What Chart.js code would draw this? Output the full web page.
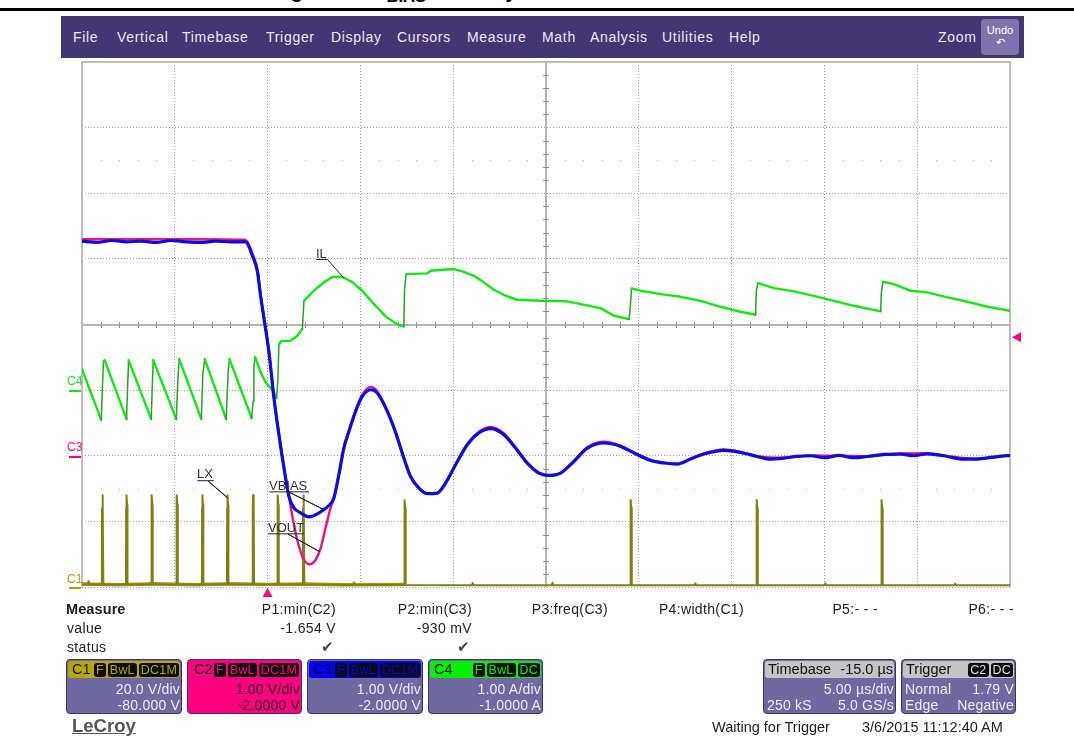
<!DOCTYPE html>
<html><head><meta charset="utf-8">
<script src="https://cdn.jsdelivr.net/npm/chart.js@4"></script>
<style>
html,body{margin:0;padding:0;background:#fff;width:1074px;height:736px;overflow:hidden;font-family:"Liberation Sans",Arial,sans-serif}
#scope{position:absolute;left:0;top:0;width:1074px;height:736px}
.a{position:absolute;white-space:nowrap;line-height:16px;color:#222}
.m{color:#ece9f4;font-size:14px;letter-spacing:.7px;top:29px}
.p{font-size:14px;letter-spacing:.35px;color:#222}
.r{transform:translateX(-100%)}
.box{position:absolute;top:659px;height:55px;background:#7068a0;border:1px solid #3c3470;border-radius:4px;box-sizing:border-box;overflow:hidden}
.hd{position:absolute;left:1px;right:1px;top:1px;height:17px;border-radius:3px;color:#111;font-size:14.5px;line-height:17px}
.hd .n{position:absolute;left:4px;top:0}
.chips{position:absolute;right:1px;top:2px;display:flex;gap:2px}
.chip{background:#0c0c0c;border-radius:3px;height:14px;line-height:14px;font-size:12.5px;padding:0 2px;letter-spacing:.2px}
.v{position:absolute;right:1px;color:#ecebf4;font-size:14px;line-height:16px;letter-spacing:.2px;white-space:nowrap}
.l1{top:21px}.l2{top:37px}
.lab{position:absolute;font-size:12px;line-height:12px;white-space:nowrap}
.ann{position:absolute;font-size:13px;line-height:13px;color:#333;white-space:nowrap}
</style></head><body>
<div style="position:absolute;left:0;top:8px;width:1074px;height:2.5px;background:#000"></div>
<div class="a" style="left:273px;top:-19px;font-size:20px;line-height:20px;font-weight:bold;color:#000;height:21px">Figure 50. V<span style="font-size:16.7px;position:relative;top:4px">BIAS</span><span style="margin-left:8px"> Linearly Overshoot Load Current</span></div>
<div style="position:absolute;left:61px;top:16px;width:963px;height:42px;background:#433672"></div>
<div class="a m" style="left:73px">File</div><div class="a m" style="left:117px">Vertical</div>
<div class="a m" style="left:182px">Timebase</div><div class="a m" style="left:266px">Trigger</div>
<div class="a m" style="left:331px">Display</div><div class="a m" style="left:397px">Cursors</div>
<div class="a m" style="left:467px">Measure</div><div class="a m" style="left:542px">Math</div>
<div class="a m" style="left:590px">Analysis</div><div class="a m" style="left:662px">Utilities</div>
<div class="a m" style="left:729px">Help</div><div class="a m" style="left:938px">Zoom</div>
<div style="position:absolute;left:981px;top:19px;width:38px;height:36px;background:#7e74ab;border-radius:4px;color:#fff;font-size:11px;line-height:12px;text-align:center;padding-top:5px;box-sizing:border-box">Undo<br>↶</div>

<canvas id="scope" width="1074" height="736"></canvas>

<div class="lab" style="left:67px;top:375px;color:#22dd22">C4</div><div style="position:absolute;left:69px;top:390px;width:12px;height:2px;background:#22dd22"></div>
<div class="lab" style="left:67px;top:441px;color:#ff0080">C3</div><div style="position:absolute;left:69px;top:456px;width:12px;height:2px;background:#ff0080"></div>
<div class="lab" style="left:67px;top:573px;color:#a8a000">C1</div><div style="position:absolute;left:69px;top:587px;width:12px;height:2px;background:#a8a000"></div>
<div class="ann" style="left:316px;top:247px">IL</div>
<div class="ann" style="left:197px;top:467px">LX</div>
<div class="ann" style="left:269px;top:479px">VBIAS</div>
<div class="ann" style="left:268px;top:521px">VOUT</div>

<div class="a" style="left:66px;top:601px;font-size:14.5px;font-weight:bold;color:#222;letter-spacing:.1px">Measure</div>
<div class="a p" style="left:67px;top:620px">value</div>
<div class="a p" style="left:67px;top:639px">status</div>
<div class="a p r" style="left:336px;top:601px">P1:min(C2)</div>
<div class="a p r" style="left:472px;top:601px">P2:min(C3)</div>
<div class="a p r" style="left:608px;top:601px">P3:freq(C3)</div>
<div class="a p r" style="left:744px;top:601px">P4:width(C1)</div>
<div class="a p r" style="left:878px;top:601px">P5:- - -</div>
<div class="a p r" style="left:1014px;top:601px">P6:- - -</div>
<div class="a p r" style="left:336px;top:620px">-1.654 V</div>
<div class="a p r" style="left:472px;top:620px">-930 mV</div>
<div class="a r" style="left:334px;top:639px;font-size:15px;color:#444">✔</div>
<div class="a r" style="left:470px;top:639px;font-size:15px;color:#444">✔</div>

<div class="box" style="left:66px;width:116px"><div class="hd" style="background:#b4a800"><span class="n">C1</span><div class="chips" style="color:#b4a800"><span class="chip">F</span><span class="chip">BwL</span><span class="chip">DC1M</span></div></div><div class="v l1">20.0 V/div</div><div class="v l2">-80.000 V</div></div>
<div class="box" style="left:187px;width:115px;background:#ff0080"><div class="hd" style="background:#ff0080"><span class="n" style="left:5px">C2</span><div class="chips" style="color:#ff0080"><span class="chip">F</span><span class="chip">BwL</span><span class="chip">DC1M</span></div></div><div class="v l1" style="color:#300018">1.00 V/div</div><div class="v l2" style="color:#300018">-2.0000 V</div></div>
<div class="box" style="left:307px;width:116px"><div class="hd" style="background:#0000f0;color:#000050"><span class="n">C3</span><div class="chips" style="color:#0000f0"><span class="chip">F</span><span class="chip">BwL</span><span class="chip">DC1M</span></div></div><div class="v l1">1.00 V/div</div><div class="v l2">-2.0000 V</div></div>
<div class="box" style="left:428px;width:115px"><div class="hd" style="background:#00f000"><span class="n">C4</span><div class="chips" style="color:#00f000"><span class="chip">F</span><span class="chip">BwL</span><span class="chip">DC</span></div></div><div class="v l1">1.00 A/div</div><div class="v l2">-1.0000 A</div></div>

<div class="box" style="left:763px;width:133px"><div class="hd" style="background:#c4c4c4"><span class="n" style="left:3px">Timebase</span><span class="n" style="left:auto;right:1px">-15.0 µs</span></div><div class="v l1">5.00 µs/div</div><div class="v l2">5.0 GS/s</div><div class="v l2" style="right:auto;left:3px">250 kS</div></div>
<div class="box" style="left:901px;width:115px"><div class="hd" style="background:#c4c4c4"><span class="n" style="left:3px">Trigger</span><div class="chips" style="color:#ddd"><span class="chip">C2</span><span class="chip">DC</span></div></div><div class="v l1">1.79 V</div><div class="v l1" style="right:auto;left:3px">Normal</div><div class="v l2">Negative</div><div class="v l2" style="right:auto;left:3px">Edge</div></div>

<div class="a" style="left:72px;top:716px;font-size:18.5px;line-height:20px;color:#555;text-decoration:underline;font-weight:bold">LeCroy</div>
<div class="a" style="left:712px;top:719px;font-size:14.5px;color:#222">Waiting for Trigger</div>
<div class="a" style="left:862px;top:719px;font-size:14.5px;color:#222">3/6/2015 11:12:40 AM</div>

<script>
const triggerLevelV = 1.79;
const triggerTimeUs = 0;

const ilTimeUs = [-10,-8.96,-8.91,-8.84,-8.78,-7.6,-7.54,-7.49,-6.27,-6.21,-6.16,-4.92,-4.83,-4.76,-3.57,-3.49,-3.39,-2.23,-2.12,-2.05,-0.86,-0.78,-0.74,-0.67,-0.38,-0.11,0.34,0.48,0.55,0.61,0.74,1.24,1.6,1.87,1.96,2.05,2.49,3.03,3.49,4.02,4.56,5.1,5.73,6.36,6.99,7.34,7.38,7.47,8.6,8.78,10.04,10.49,11.12,11.65,12.19,12.82,13.45,14.71,16.15,16.86,17.94,18.66,19.47,19.52,19.61,20.1,21.18,22.25,23.33,24.41,25.48,26.29,26.33,26.42,27.28,28.36,29.43,30.51,31.59,33.03,33.07,33.15,33.75,34.65,35.55,36.63,37.71,38.79,40];
const ilAmps = [0.32,-0.457,-0.015,0.44,0.457,-0.442,0.061,0.457,-0.442,0.091,0.457,-0.442,0.198,0.473,-0.442,0.244,0.473,-0.442,0.32,0.473,-0.427,-0.168,0.366,0.503,0.274,0.122,-0.03,-0.122,0.137,0.7,0.747,0.752,0.828,0.93,1.36,1.387,1.514,1.642,1.723,1.727,1.646,1.514,1.311,1.124,1,0.971,1.54,1.768,1.779,1.819,1.845,1.81,1.742,1.642,1.529,1.438,1.377,1.361,1.352,1.311,1.25,1.133,1.082,1.184,1.55,1.514,1.463,1.422,1.361,1.27,1.194,1.148,1.514,1.631,1.555,1.505,1.437,1.361,1.285,1.2,1.489,1.651,1.616,1.514,1.489,1.413,1.346,1.27,1.209];

const vbiasTimeUs = [-10,-9.2,-8.4,-7.6,-6.8,-6,-5.2,-4.4,-3.6,-2.8,-2,-1.19,-0.82,-0.55,-0.38,-0.2,0.07,0.34,0.61,0.88,1.15,1.42,1.78,2.23,2.86,3.3,3.57,3.84,4.11,4.38,4.74,5.1,5.58,5.91,6.45,6.9,7.34,7.7,8.15,8.64,9.14,9.59,10.13,10.76,11.38,12.02,12.73,13.36,13.99,14.62,15.16,15.79,16.5,17.23,18.12,19.02,19.74,20.64,21.35,22.07,22.79,23.51,24.59,25.48,26.38,27,27.82,28.5,29.26,30,30.8,31.5,32.31,33.2,34.11,34.8,35.55,36.63,37.4,38.24,39.1,40];
const vbiasVolts = [3.27,3.25,3.28,3.26,3.27,3.25,3.28,3.26,3.25,3.27,3.26,3.26,3.05,2.81,2.44,2.1,1.585,0.884,0.32,-0.183,-0.62,-0.793,-0.869,-0.93,-0.854,-0.758,-0.645,-0.29,0.117,0.37,0.675,0.904,1.006,0.956,0.675,0.351,-0.035,-0.316,-0.492,-0.579,-0.569,-0.416,-0.137,0.168,0.346,0.412,0.32,0.117,-0.111,-0.264,-0.3,-0.264,-0.087,0.117,0.194,0.142,0.041,-0.072,-0.111,-0.127,-0.05,0.026,0.081,0.05,-0.011,-0.05,-0.035,-0.01,0,-0.03,0.005,-0.03,-0.011,0.02,0.026,0,0.03,-0.011,-0.05,-0.05,-0.02,0.005];

const voutTimeUs = [-10,-7,-4,-1.19,-0.82,-0.55,-0.38,-0.2,0.07,0.34,0.61,0.88,1.15,1.42,1.69,1.96,2.26,2.59,2.86,3.12,3.39,3.57,3.84,4.11,4.38,4.74,5.1,5.58,5.91,6.45,6.9,7.34,7.7,8.15,8.64,9.14,9.59,10.13,10.76,11.38,12.02,12.73,13.36,13.99,14.62,15.16,15.79,16.5,17.23,18.12,19.02,19.74,20.64,21.35,22.07,22.79,23.51,24.59,25.48,26.38,27.82,29.26,32.31,34.11,35.55,36.63,38.24,40];
const voutVolts = [3.3,3.3,3.3,3.29,3.08,2.84,2.46,2.12,1.6,0.9,0.33,-0.17,-0.62,-1.052,-1.383,-1.585,-1.654,-1.585,-1.407,-1.102,-0.797,-0.645,-0.28,0.125,0.38,0.69,0.93,1.05,0.98,0.69,0.36,-0.03,-0.31,-0.49,-0.575,-0.565,-0.41,-0.13,0.18,0.365,0.44,0.34,0.125,-0.105,-0.26,-0.295,-0.26,-0.08,0.13,0.215,0.155,0.05,-0.065,-0.105,-0.12,-0.045,0.035,0.095,0.06,-0.005,-0.03,0.005,-0.005,0.035,0.04,-0.005,-0.045,0.01];

const lxTimeUs = [-10,-9.7,-9.65,-9.6,-8.93,-8.92,-8.9,-8.87,-8.85,-7.63,-7.62,-7.6,-7.57,-7.55,-6.27,-6.26,-6.24,-6.21,-6.19,-4.92,-4.91,-4.89,-4.86,-4.84,-3.54,-3.53,-3.51,-3.48,-3.46,-2.19,-2.18,-2.16,-2.13,-2.11,-0.81,-0.8,-0.78,-0.75,-0.73,0.52,0.53,0.55,0.58,0.6,1.9,1.91,1.93,1.96,1.98,4.6,4.65,4.7,7.36,7.37,7.39,7.42,7.44,11,11.05,11.1,15.3,15.35,15.4,19.54,19.55,19.57,19.6,19.62,23,23.05,23.1,26.33,26.34,26.36,26.39,26.41,30,30.05,30.1,33.06,33.07,33.09,33.12,33.14,37,37.05,37.1,40];
const lxVolts = [0.8,0.8,1.8,0.8,0.8,24,28,25,0.8,0.8,24,28,25,0.8,0.8,24,28,25,0.8,0.8,24,28,25,0.8,0.8,24,28,25,0.8,0.8,24,28,25,0.8,0.8,24,28,25,0.8,0.8,24,28,25,0.8,0.8,24,28,25,0.8,0.6,1.4,0.6,0.6,23,26.5,24,0.6,0.5,1.2,0.5,0.5,1.3,0.5,0.5,23,26.5,24,0.5,0.5,1.1,0.5,0.5,23,26.5,24,0.5,0.5,1.1,0.5,0.5,23,26.5,24,0.5,0.5,1,0.5,0.5];
// the noisier LX baseline before and just after the load step
const lxNoiseTimeUs = [-10,-8,-6,-4,-2,0,2,4,7.3];
const lxNoiseVolts = [0.9,0.7,1,0.7,1,0.8,0.9,0.7,0.8];

// leader lines of the on-screen labels (time in µs, level on the 1 V/div scale)
const leaderILT = [2.64,3.23,4.1];     const leaderILV = [2.99,2.99,2.71];
const leaderLXT = [-3.77,-3.23,-2.16,-3.23,-2.91]; const leaderLXV = [-0.38,-0.38,-0.64,-0.38,-0.38];
const leaderVBT = [0.11,1.13,3.02,1.13,2.21];      const leaderVBV = [-0.55,-0.55,-0.82,-0.55,-0.55];
const leaderVOT = [0.05,1.08,2.8,1.08,1.94];       const leaderVOV = [-1.19,-1.19,-1.46,-1.19,-1.19];

const zip = (xs, ys) => xs.map((x, i) => ({x, y: ys[i]}));
const base = {pointRadius: 0, pointHoverRadius: 0, tension: 0, fill: false, borderJoinStyle: 'round', borderCapStyle: 'round'};

const steepRise = c => (c.p0.y - c.p1.y) > 3 * Math.abs(c.p1.x - c.p0.x);

const scopePlugin = {
  id: 'scopeFurniture',
  beforeDatasetsDraw(chart) {
    const {ctx, chartArea: a, scales: {x, y}} = chart;
    ctx.save();
    const cx = Math.round(x.getPixelForValue(15)), cy = Math.round(y.getPixelForValue(2));
    ctx.strokeStyle = '#b4b4b4'; ctx.lineWidth = 2;
    ctx.beginPath(); ctx.moveTo(a.left, cy); ctx.lineTo(a.right, cy);
    ctx.moveTo(cx, a.top); ctx.lineTo(cx, a.bottom); ctx.stroke();
    ctx.strokeStyle = '#8f8f8f'; ctx.lineWidth = 1;
    ctx.beginPath();
    for (let t = -10; t <= 40; t += 1) {
      if (t % 5 === 0) continue;
      const px = Math.round(x.getPixelForValue(t)) + .5;
      ctx.moveTo(px, cy - 3); ctx.lineTo(px, cy + 3);
    }
    for (let k = 0; k <= 40; k++) {
      if (k % 5 === 0) continue;
      const py = Math.round(y.getPixelForValue(-2 + k * 0.2)) + .5;
      ctx.moveTo(cx - 3, py); ctx.lineTo(cx + 3, py);
    }
    ctx.stroke();
    ctx.fillStyle = '#a5a5a5';
    [4.5, -0.5].forEach(v => {
      const py = Math.round(y.getPixelForValue(v));
      for (let t = -10; t <= 40; t += 1) {
        if (t % 5 === 0) continue;
        ctx.fillRect(Math.round(x.getPixelForValue(t)), py, 1, 1);
      }
    });
    ctx.strokeStyle = '#bcbcbc'; ctx.lineWidth = 2;
    ctx.beginPath();
    ctx.moveTo(a.left, a.bottom); ctx.lineTo(a.left, a.top); ctx.lineTo(a.right, a.top); ctx.lineTo(a.right, a.bottom);
    ctx.stroke();
    ctx.restore();
  },
  afterDraw(chart) {
    const {ctx, chartArea: a, scales: {x, y}} = chart;
    ctx.save();
    ctx.fillStyle = '#ff0080';
    const tx = x.getPixelForValue(triggerTimeUs);
    ctx.beginPath(); ctx.moveTo(tx, a.bottom + 1); ctx.lineTo(tx + 5, a.bottom + 10); ctx.lineTo(tx - 5, a.bottom + 10); ctx.closePath(); ctx.fill();
    const ly = y.getPixelForValue(triggerLevelV) - 1;
    ctx.beginPath(); ctx.moveTo(a.right + 2, ly); ctx.lineTo(a.right + 11, ly - 5); ctx.lineTo(a.right + 11, ly + 5); ctx.closePath(); ctx.fill();
    ctx.restore();
  }
};

const gridOpts = {color: '#9a9a9a', lineWidth: 1, drawTicks: false, tickLength: 0};

new Chart(document.getElementById('scope'), {
  type: 'line',
  plugins: [scopePlugin],
  data: {datasets: [
    {...base, label: 'C1 LX', data: zip(lxTimeUs, lxVolts), yAxisID: 'yC1', borderColor: '#837e12', borderWidth: 2, order: 6},
    {...base, label: 'C1 LX baseline', data: zip(lxNoiseTimeUs, lxNoiseVolts), yAxisID: 'yC1', borderColor: '#a29a10', borderWidth: 3.5, order: 7},
    {...base, label: 'IL', data: zip(ilTimeUs, ilAmps), yAxisID: 'yC4', borderColor: '#14e614', borderWidth: 2.4, order: 5,
      segment: {borderColor: c => steepRise(c) ? '#2f9c2f' : undefined, borderWidth: c => steepRise(c) ? 1.5 : undefined}},
    {...base, label: 'VOUT', data: zip(voutTimeUs, voutVolts), yAxisID: 'y', borderColor: '#f0107e', borderWidth: 2.4, order: 4, cubicInterpolationMode: 'monotone'},
    {...base, label: 'VBIAS', data: zip(vbiasTimeUs, vbiasVolts), yAxisID: 'y', borderColor: '#0c0cdc', borderWidth: 3.2, order: 3, cubicInterpolationMode: 'monotone'},
    {...base, label: 'leader IL', data: zip(leaderILT, leaderILV), yAxisID: 'y', borderColor: '#222', borderWidth: 1, order: 1},
    {...base, label: 'leader LX', data: zip(leaderLXT, leaderLXV), yAxisID: 'y', borderColor: '#222', borderWidth: 1, order: 1},
    {...base, label: 'leader VBIAS', data: zip(leaderVBT, leaderVBV), yAxisID: 'y', borderColor: '#222', borderWidth: 1, order: 1},
    {...base, label: 'leader VOUT', data: zip(leaderVOT, leaderVOV), yAxisID: 'y', borderColor: '#222', borderWidth: 1, order: 1}
  ]},
  options: {
    responsive: false, animation: false, events: [],
    layout: {padding: {left: 82, top: 62, right: 64, bottom: 149}},
    plugins: {legend: {display: false}, tooltip: {enabled: false}, title: {display: false}},
    scales: {
      x: {type: 'linear', min: -10, max: 40,
        ticks: {display: false, stepSize: 5}, border: {display: false, dash: [1, 2]}, grid: gridOpts},
      y: {type: 'linear', min: -2, max: 6,
        ticks: {display: false, stepSize: 1}, border: {display: false, dash: [1, 2]}, grid: gridOpts},
      yC1: {type: 'linear', min: 0, max: 160, display: false},
      yC4: {type: 'linear', min: -3, max: 5, display: false}
    }
  }
});
</script>
</body></html>
